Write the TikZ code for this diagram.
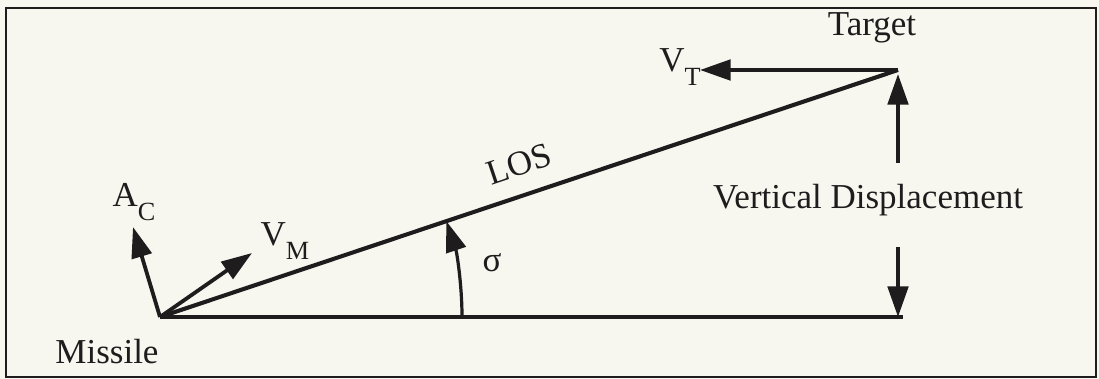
\documentclass[tikz,border=0pt]{standalone}
\usepackage{fontspec}
\setmainfont{Liberation Serif}
\usepackage{tikz}
\usetikzlibrary{
    arrows.meta,
    positioning
}
\definecolor{Cink}{RGB}{30, 28, 28}
\definecolor{Cpaper}{RGB}{247, 247, 240}
\newcommand{\lowsub}[1]{\raisebox{-0.42em}{\fontsize{9}{10}\selectfont #1}}
\tikzset{
    vec/.style={-{Triangle[length=10.5pt, width=7pt]}, line width=1.3pt, draw=Cink},
    losline/.style={line width=1.4pt, draw=Cink},
    baseline/.style={line width=1.1pt, draw=Cink},
    lbl/.style={font=\fontsize{12}{14}\selectfont, text=Cink, inner sep=1pt},
}

\begin{document}
\begin{tikzpicture}[x=0.343pt, y=-0.343pt]

    % ── frame ────────────────────────────────────────────
    \fill [Cpaper] (0,0) rectangle (1099,379);
    \draw [line width=1pt, Cink] (6,8) rectangle (1096,377);

    % ── points ───────────────────────────────────────────
    \coordinate (missile) at (160,317);
    \coordinate (target)  at (898,70);
    \coordinate (foot)    at (903,317);
    \coordinate (vtend)   at (700,70);
    \coordinate (acend)   at (133,227);
    \coordinate (vmend)   at (252,253);
    \coordinate (vdup)    at (898,163);
    \coordinate (vdtip)   at (898,74);
    \coordinate (vddown)  at (898,247);
    \coordinate (vdfoot)  at (898,317);
    \coordinate (sigstart) at (462,317);

    % ── lines and vectors ────────────────────────────────
    \draw [losline] (missile) -- node[lbl, sloped, above, yshift=5pt] (los) {LOS} (target);
    \draw [baseline] (missile) -- (foot);
    \draw [vec] (target) -- (vtend);
    \draw [vec] (missile) -- (acend);
    \draw [vec] (missile) -- (vmend);
    \draw [vec] (vdup) -- (vdtip);
    \draw [vec] (vddown) -- (vdfoot);
    \draw [vec, line width=1.1pt] (sigstart) arc[start angle=0, end angle=-18.5, radius=302];

    % ── labels ───────────────────────────────────────────
    \node [lbl] (targetlbl)  at (872,28)  {Target};
    \node [lbl] (missilelbl) at (107,352) {Missile};
    \node [lbl] (vdlbl)      at (868,200) {Vertical Displacement};
    \node [lbl] (aclbl)      at (134,202) {A\lowsub{C}};
    \node [lbl] (vmlbl)      at (285,241) {V\lowsub{M}};
    \node [lbl] (vtlbl)      at (680,67)  {V\lowsub{T}};
    \node [lbl] (siglbl)     at (492,263) {σ};

\end{tikzpicture}
\end{document}
